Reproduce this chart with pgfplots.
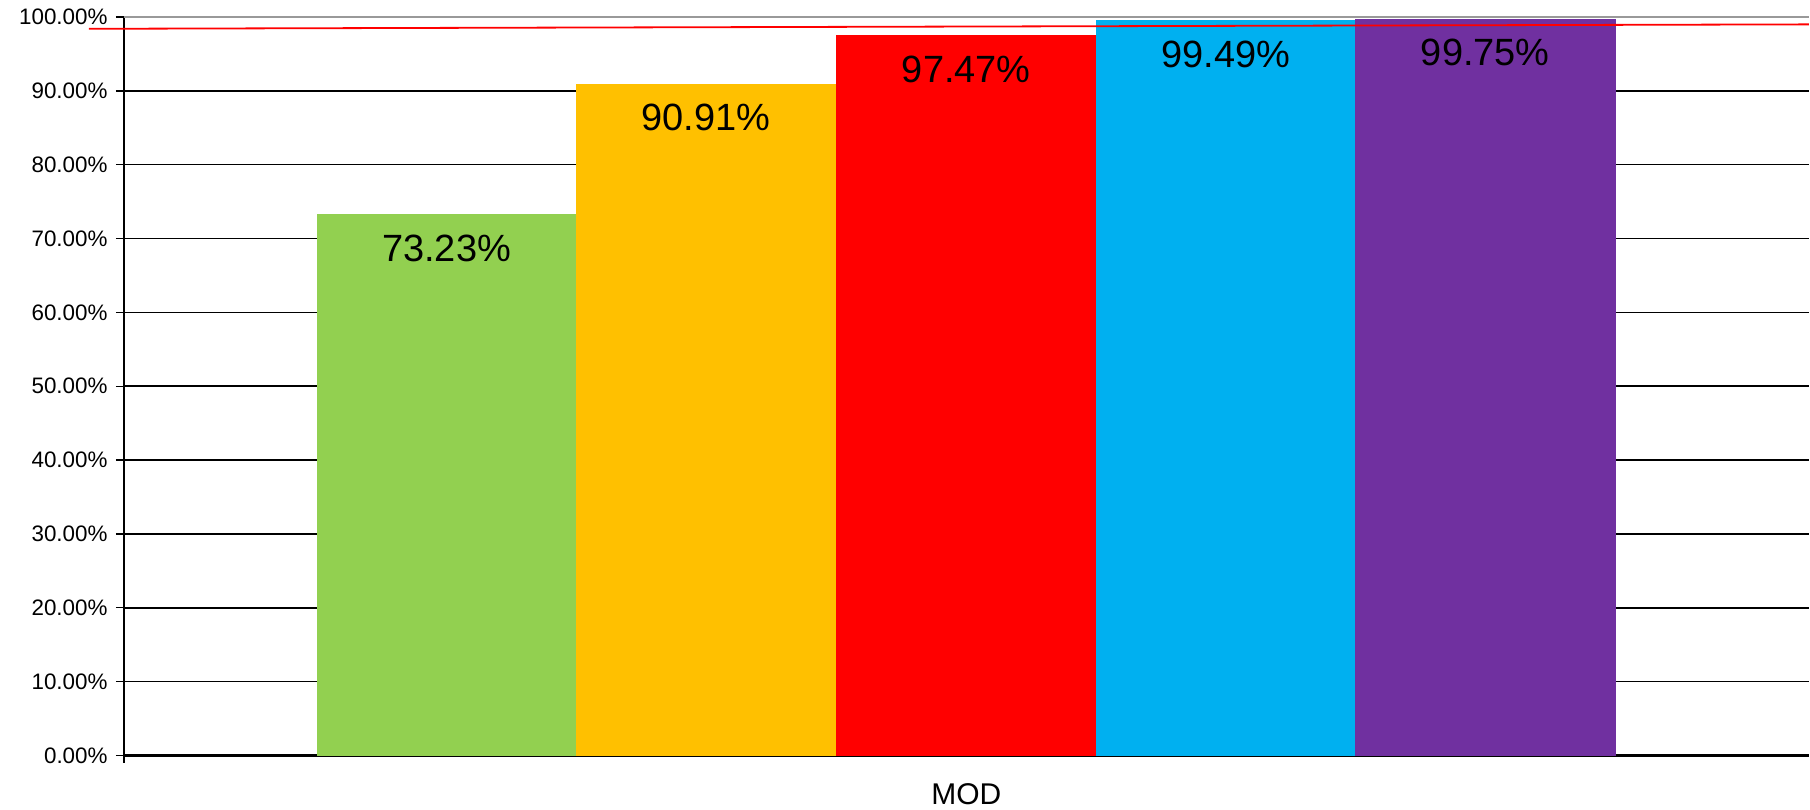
\documentclass[border=0pt]{standalone}
\usepackage{pgfplots}
\pgfplotsset{compat=1.18}
\usepackage{fontspec}
\setmainfont{Liberation Sans}

\definecolor{cgreen}{HTML}{92D050}
\definecolor{cyellow}{HTML}{FFC000}
\definecolor{cred}{HTML}{FF0000}
\definecolor{cblue}{HTML}{00B0F0}
\definecolor{cpurple}{HTML}{7030A0}

\pgfplotsset{
  pctbar/.style={
    ybar, bar width=0.154, bar shift=0pt, draw=#1, line width=0.3pt, fill=#1,
    nodes near coords={\pgfmathprintnumber[assume math mode=true,fixed,fixed zerofill,precision=2]{\pgfplotspointmeta}\%},
    nodes near coords align={below},
    every node near coord/.append style={font=\fontsize{19}{22}\selectfont, text=black, anchor=north, inner sep=0pt, yshift=-10pt},
  },
}

\begin{document}
\begin{tikzpicture}
\begin{axis}[
    scale only axis,
    width=843pt, height=369.5pt,
    xmin=-0.5, xmax=0.5,
    ymin=0, ymax=100,
    axis x line*=bottom,
    axis y line*=left,
    x axis line style={line width=1.2pt},
    y axis line style={line width=0.7pt},
    xtick={0}, xticklabels={MOD},
    x tick style={draw=none},
    xticklabel style={font=\fontsize{15}{18}\selectfont, anchor=north, inner sep=0pt, yshift=-10pt},
    ytick={0,10,...,100},
    tick align=outside,
    major tick length=4pt,
    y tick style={black, line width=0.7pt},
    yticklabel={\pgfmathprintnumber[assume math mode=true,fixed,fixed zerofill,precision=2]{\tick}\%},
    yticklabel style={font=\fontsize{11.2}{13}\selectfont, inner sep=0pt, xshift=-4pt},
    ymajorgrids,
    major grid style={black, line width=0.8pt},
    clip=false,
]
% bars
\addplot[pctbar=cgreen]   coordinates {(-0.3085,73.23)};
\addplot[pctbar=cyellow]  coordinates {(-0.1545,90.91)};
\addplot[pctbar=cred]     coordinates {(0,97.47)};
\addplot[pctbar=cblue]    coordinates {(0.154,99.49)};
\addplot[pctbar=cpurple]  coordinates {(0.308,99.75)};

% reference line
\addplot[red, line width=0.9pt] coordinates {(-0.5208,98.4) (0.5,99.0)};

% top border and y axis stub
\draw[gray!80, line width=1pt] (rel axis cs:0,1) -- (rel axis cs:1,1);
\draw[black, line width=0.7pt] (rel axis cs:0,0) -- ([yshift=-4pt]rel axis cs:0,0);

% page extent
\path ([xshift=-62pt,yshift=-27pt]rel axis cs:0,0) rectangle ([yshift=8.5pt]rel axis cs:1,1);
\end{axis}
\end{tikzpicture}
\end{document}
